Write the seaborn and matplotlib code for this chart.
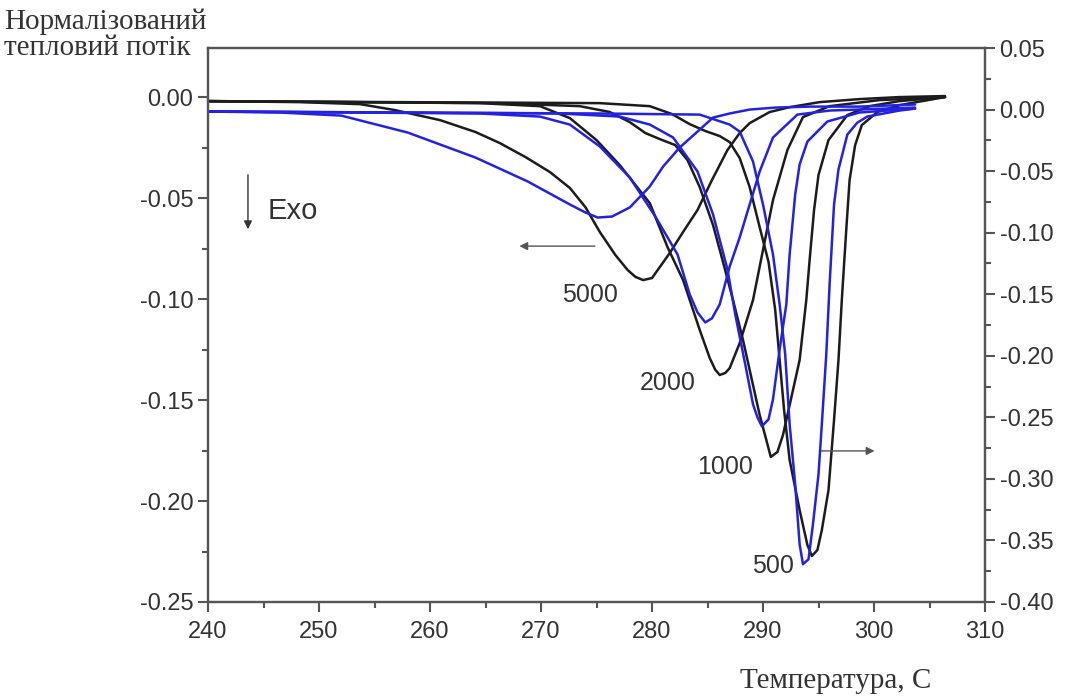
import matplotlib
matplotlib.use("Agg")
import matplotlib.pyplot as plt
import numpy as np
import seaborn as sns

# temperature (C) / normalised heat flow, black curves -> left axis
t_k5000 = [240.0, 248.3, 253.7, 256.8, 260.9, 264.1, 266.3, 268.6, 270.8, 272.6, 274.0, 275.3, 276.7, 277.8,
           278.5, 279.2, 280.0, 281.6, 282.8, 284.1, 285.4, 286.8, 287.9, 288.8, 290.6, 292.4, 295.1, 298.7, 302.3, 306.4]
v_k5000 = [-0.0020, -0.0025, -0.0035, -0.0064, -0.0114, -0.0173, -0.0228, -0.0297, -0.0371, -0.0450, -0.0545,
           -0.0668, -0.0782, -0.0856, -0.0890, -0.0906, -0.0896, -0.0772, -0.0668, -0.0559, -0.0411, -0.0262, -0.0178,
           -0.0129, -0.0074, -0.0050, -0.0025, -0.0010, 0.0000, 0.0005]

t_k2000 = [240.0, 252.8, 264.5, 269.9, 272.6, 275.0, 277.1, 279.8, 281.4, 282.8, 284.3, 285.2, 285.7, 286.1, 286.6,
           287.0, 287.9, 289.1, 290.0, 290.9, 292.2, 293.6, 296.0, 300.5, 306.4]
v_k2000 = [-0.0020, -0.0025, -0.0030, -0.0045, -0.0104, -0.0213, -0.0337, -0.0525, -0.0743, -0.0906, -0.1153,
           -0.1292, -0.1350, -0.1376, -0.1366, -0.1342, -0.1218, -0.1005, -0.0757, -0.0510, -0.0262, -0.0099,
           -0.0045, -0.0015, 0.0000]

t_k1000 = [240.0, 252.8, 266.3, 273.5, 276.2, 278.0, 279.4, 280.7, 282.1, 283.2, 284.3, 285.5, 286.4, 287.3,
           288.2, 289.0, 289.7, 290.3, 290.7, 291.3, 291.8, 292.4, 293.3, 293.9, 294.2, 294.6, 295.0, 295.9,
           297.6, 299.6, 302.3, 306.4]
v_k1000 = [-0.0020, -0.0025, -0.0030, -0.0045, -0.0074, -0.0124, -0.0178, -0.0208, -0.0238, -0.0312, -0.0446,
           -0.0634, -0.0817, -0.1005, -0.1203, -0.1401, -0.1574, -0.1698, -0.1782, -0.1757, -0.1673, -0.1525,
           -0.1302, -0.1005, -0.0807, -0.0559, -0.0386, -0.0213, -0.0089, -0.0045, -0.0020, 0.0000]

t_k500 = [240.0, 257.3, 275.3, 279.8, 281.8, 283.4, 284.8, 286.1, 287.0, 287.9, 288.8, 289.7, 290.5, 291.1,
          291.5, 291.9, 292.4, 293.3, 294.0, 294.4, 294.9, 295.3, 295.9, 296.4, 296.8, 297.1, 297.5, 297.8,
          298.3, 298.9, 300.3, 302.3, 306.4]
v_k500 = [-0.0020, -0.0025, -0.0030, -0.0045, -0.0084, -0.0134, -0.0168, -0.0193, -0.0223, -0.0302, -0.0446,
          -0.0644, -0.0817, -0.1054, -0.1302, -0.1550, -0.1797, -0.2045, -0.2218, -0.2272, -0.2243, -0.2144,
          -0.1946, -0.1599, -0.1302, -0.1005, -0.0658, -0.0411, -0.0238, -0.0139, -0.0074, -0.0040, 0.0000]

# blue curves -> right axis
t_b5000 = [240.0, 246.5, 252.0, 258.0, 264.1, 268.8, 272.6, 274.0, 275.1, 276.4, 278.0, 279.8, 281.0, 282.5,
           284.1, 285.5, 287.0, 288.8, 291.1, 294.2, 298.7, 303.7]
v_b5000 = [-0.0016, -0.0024, -0.0049, -0.0187, -0.0390, -0.0584, -0.0771, -0.0836, -0.0877, -0.0869, -0.0795,
           -0.0625, -0.0463, -0.0308, -0.0179, -0.0065, -0.0032, 0.0000, 0.0016, 0.0024, 0.0024, 0.0041]

t_b2000 = [240.0, 252.8, 264.5, 269.9, 272.6, 275.3, 278.0, 280.3, 282.3, 283.4, 284.1, 284.8, 285.4, 286.1,
           287.0, 287.9, 288.8, 289.7, 290.9, 293.1, 296.0, 303.7]
v_b2000 = [-0.0016, -0.0024, -0.0032, -0.0057, -0.0122, -0.0300, -0.0552, -0.0869, -0.1177, -0.1502, -0.1648,
           -0.1729, -0.1696, -0.1583, -0.1274, -0.1039, -0.0771, -0.0503, -0.0227, -0.0041, -0.0008, 0.0016]

t_b1000 = [240.0, 257.3, 271.7, 277.1, 279.8, 281.9, 284.1, 285.5, 286.8, 287.5, 288.4, 289.1, 289.5, 289.9,
           290.5, 290.9, 291.5, 292.1, 292.4, 292.9, 293.3, 294.0, 295.8, 298.7, 303.7]
v_b1000 = [-0.0016, -0.0024, -0.0032, -0.0057, -0.0122, -0.0227, -0.0503, -0.0852, -0.1299, -0.1664, -0.2070,
           -0.2394, -0.2500, -0.2573, -0.2516, -0.2354, -0.1948, -0.1583, -0.1177, -0.0690, -0.0446, -0.0260,
           -0.0097, -0.0024, 0.0008]

t_b500 = [240.0, 257.3, 275.3, 284.3, 287.0, 287.9, 289.1, 290.0, 290.9, 291.5, 292.0, 292.4, 292.9, 293.3,
          293.6, 294.1, 294.5, 295.0, 295.3, 295.7, 296.0, 296.4, 296.8, 297.6, 298.5, 299.4, 302.3, 303.7]
v_b500 = [-0.0016, -0.0024, -0.0032, -0.0041, -0.0122, -0.0179, -0.0422, -0.0771, -0.1177, -0.1583, -0.1989,
          -0.2557, -0.3044, -0.3531, -0.3693, -0.3653, -0.3369, -0.2963, -0.2557, -0.1989, -0.1420, -0.0771,
          -0.0487, -0.0203, -0.0106, -0.0057, -0.0008, 0.0008]

x_ticks = [240, 250, 260, 270, 280, 290, 300, 310]
left_ticks = [-0.25, -0.20, -0.15, -0.10, -0.05, 0.00]
right_ticks = [-0.40, -0.35, -0.30, -0.25, -0.20, -0.15, -0.10, -0.05, 0.00, 0.05]

sns.set_style("ticks")
plt.rcParams['font.family'] = ['Liberation Sans', 'DejaVu Sans']
plt.rcParams['axes.unicode_minus'] = False

BLACK = '#1c1c1c'
BLUE = '#2222e0'
GREY = '#555555'
TXT = '#333333'

fig = plt.figure(figsize=(10.67, 6.98), dpi=100)
ax = fig.add_axes([208 / 1067, 1 - 602 / 698, 777 / 1067, 554 / 698])
ax2 = ax.twinx()

for t, v in [(t_k5000, v_k5000), (t_k2000, v_k2000), (t_k1000, v_k1000), (t_k500, v_k500)]:
    sns.lineplot(x=t, y=v, ax=ax, color=BLACK, linewidth=1.8, estimator=None, sort=False)
for t, v in [(t_b5000, v_b5000), (t_b2000, v_b2000), (t_b1000, v_b1000), (t_b500, v_b500)]:
    sns.lineplot(x=t, y=v, ax=ax2, color=BLUE, linewidth=1.8, estimator=None, sort=False)

for line in ax.get_lines() + ax2.get_lines():
    line.set_solid_joinstyle('round')

ax.set_xlim(240, 310)
ax.set_ylim(-0.25, 0.0243)
ax2.set_ylim(-0.40, 0.05)

ax.set_xticks(x_ticks)
ax.set_xticks(np.arange(245, 310, 10), minor=True)
ax.set_yticks(left_ticks)
ax.set_yticklabels([f"{v:.2f}" for v in left_ticks])
ax.set_yticks(np.arange(-0.225, 0.02, 0.05), minor=True)
ax2.set_yticks(right_ticks)
ax2.set_yticklabels([f"{v:.2f}" for v in right_ticks])
ax2.set_yticks(np.arange(-0.375, 0.05, 0.05), minor=True)

for a in (ax, ax2):
    a.set_xlabel('')
    a.set_ylabel('')
    a.tick_params(which='major', direction='out', length=7, width=1.5, color=GREY,
                  labelsize=17, labelcolor=TXT)
    a.tick_params(which='minor', direction='out', length=4, width=1.5, color=GREY)
    for s in a.spines.values():
        s.set_color(GREY)
        s.set_linewidth(1.6)
        s.set_visible(True)
ax.tick_params(axis='y', which='both', left=True, right=False)
ax.tick_params(axis='x', which='both', top=False, bottom=True, pad=7)
ax2.tick_params(axis='y', which='both', left=False, right=True)

# annotations
ax.annotate('', xy=(243.6, -0.0668), xytext=(243.6, -0.0371),
            arrowprops=dict(arrowstyle='-|>', color=TXT, lw=1.0, mutation_scale=12))
ax.text(245.4, -0.0564, 'Exo', fontsize=21, color=TXT, ha='left', va='center')
ax.annotate('', xy=(267.8, -0.0738), xytext=(275.1, -0.0738),
            arrowprops=dict(arrowstyle='-|>', color=GREY, lw=1.0, mutation_scale=12))
ax.annotate('', xy=(300.3, -0.1752), xytext=(295.0, -0.1752),
            arrowprops=dict(arrowstyle='-|>', color=GREY, lw=1.0, mutation_scale=12))
for label, tx, ty in [('5000', 274.4, -0.0980), ('2000', 281.4, -0.1416),
                      ('1000', 286.6, -0.1832), ('500', 290.9, -0.2322)]:
    ax.text(tx, ty, label, fontsize=18, color=TXT, ha='center', va='center')

fig.text(0.004, 0.988, 'Нормалізований\nтепловий потік', fontsize=21, family=['Liberation Serif'],
         color=TXT, ha='left', va='top', linespacing=1.0)
fig.text(740 / 1067, 1 - 688 / 698, 'Температура, С', fontsize=21, family=['Liberation Serif'],
         color=TXT, ha='left', va='baseline')

fig.savefig('out.png', dpi=100)
